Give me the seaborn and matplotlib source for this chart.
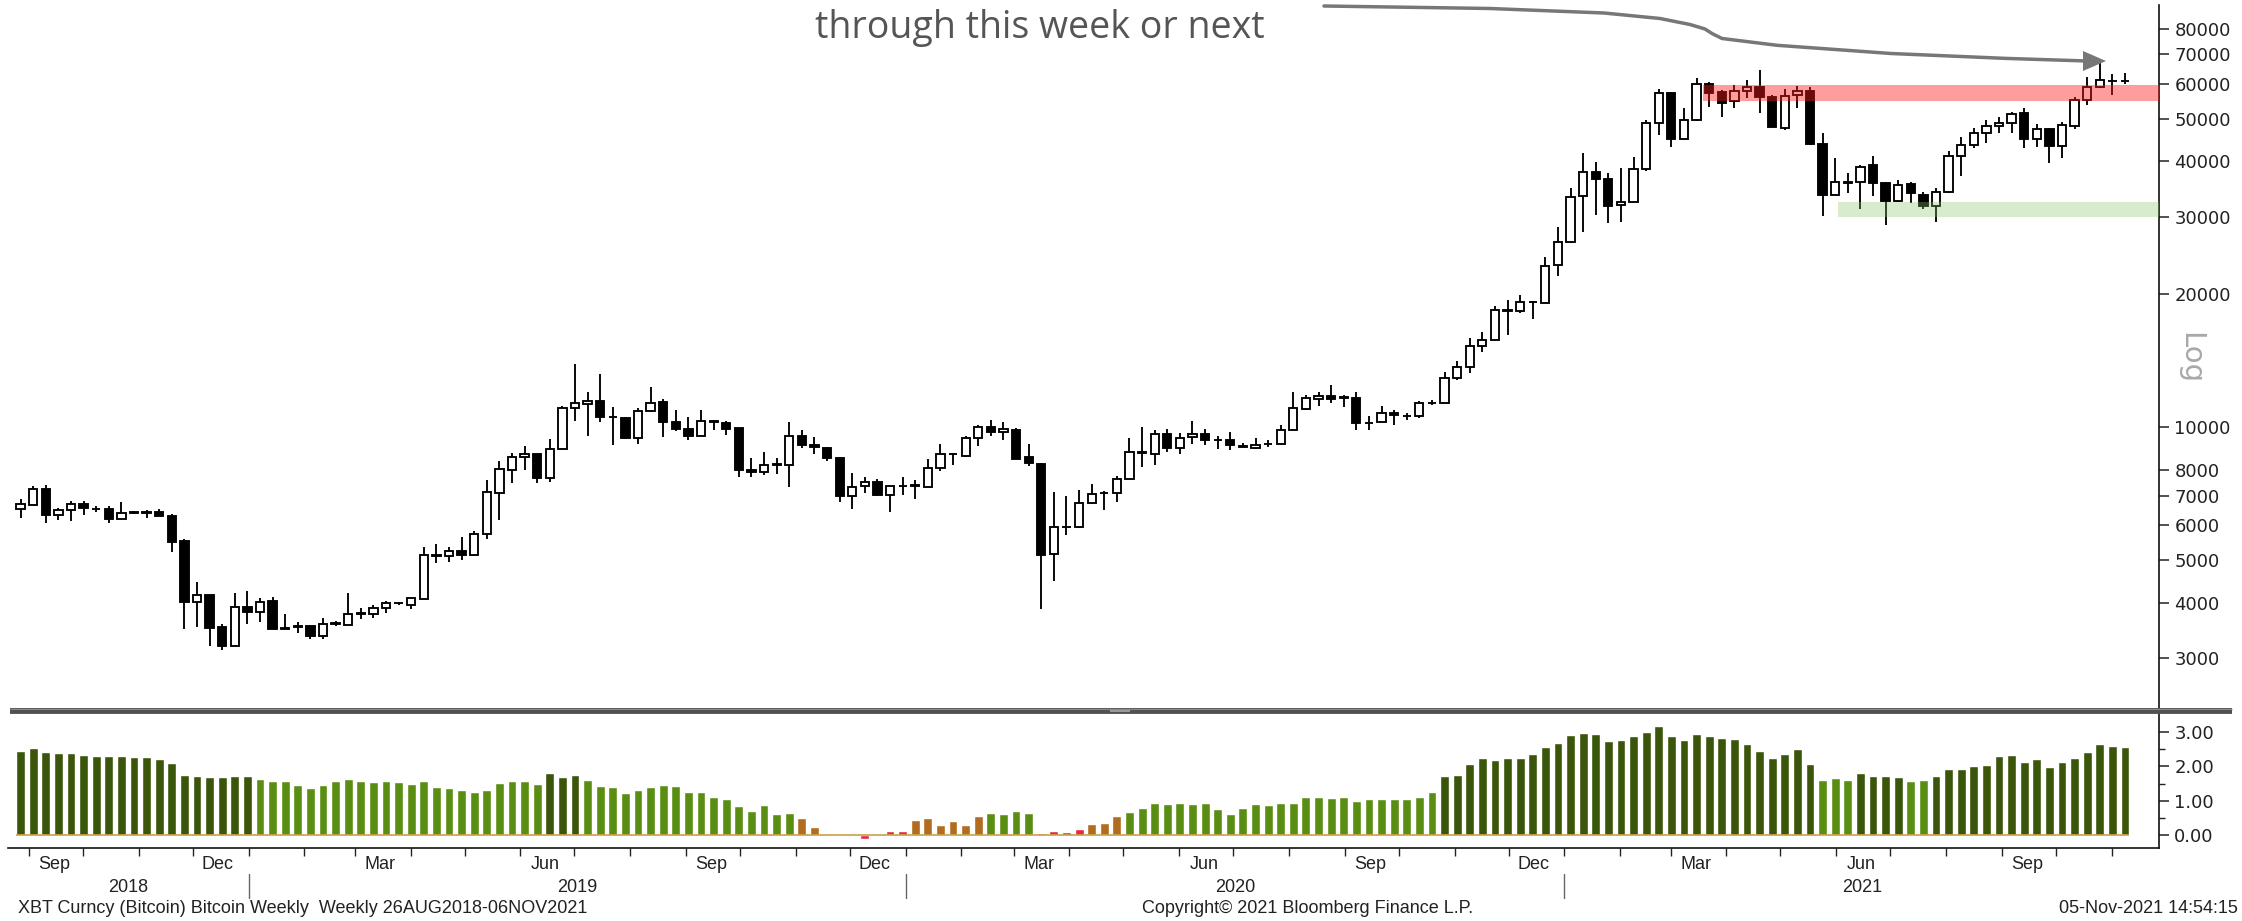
import numpy as np
import pandas as pd
import matplotlib
matplotlib.use("Agg")
import matplotlib.pyplot as plt
import seaborn as sns
from matplotlib import font_manager
from matplotlib.lines import Line2D
from matplotlib.patches import Polygon
from matplotlib.ticker import NullLocator
import matplotlib.transforms as mtransforms

# ---------------- data ----------------
week_end = pd.date_range("2018-08-26", periods=168, freq="W-SUN")

open_ = [6525, 6660, 7240, 6340, 6490, 6680, 6540, 6520, 6180, 6400,
         6410, 6410, 6290, 5530, 4020, 4170, 3530, 3200, 3918, 3815,
         4040, 3500, 3530, 3540, 3365, 3580, 3560, 3780, 3770, 3885,
         3985, 3950, 4090, 5120, 5110, 5230, 5120, 5720, 7100, 8010,
         8560, 8700, 7680, 8940, 11030, 11300, 11480, 10540, 10480, 9460,
         10900, 11400, 10260, 9920, 9560, 10300, 10200, 9960, 8000, 7930,
         8220, 8200, 9560, 9100, 8990, 8500, 6990, 7370, 7520, 7030,
         7360, 7380, 7330, 8080, 8680, 8610, 9440, 10000, 9770, 9870,
         8540, 8250, 5170, 5930, 5930, 6740, 7080, 7100, 7650, 8800,
         8680, 9640, 8980, 9480, 9640, 9350, 9330, 9050, 8960, 9150,
         9150, 9870, 11000, 11600, 11760, 11650, 11620, 10200, 10250, 10770,
         10600, 10580, 11350, 11360, 12950, 13680, 15270, 15780, 18400, 18330,
         19190, 19150, 23300, 26280, 33400, 37910, 36430, 31860, 32420, 38400,
         48800, 57060, 44880, 49650, 59810, 57560, 54850, 57850, 59100, 55880,
         47750, 56560, 57860, 43900, 33600, 35800, 35850, 39300, 35700, 32560,
         35500, 33600, 31670, 34200, 41220, 43590, 46500, 48200, 48930, 51400,
         44880, 47500, 43450, 48200, 55130, 58910, 61000, 60800]

high = [6880, 7360, 7390, 6545, 6800, 6800, 6625, 6640, 6750, 6470,
        6490, 6525, 6350, 5570, 4450, 4170, 3575, 4200, 4260, 4100,
        4130, 3770, 3625, 3560, 3700, 3640, 4200, 3885, 3950, 4040,
        4020, 4100, 5350, 5430, 5360, 5625, 5810, 7600, 8360, 8730,
        9080, 8700, 9400, 11170, 13870, 12040, 13170, 11125, 10570, 11030,
        12320, 11560, 10940, 10540, 10940, 10400, 10350, 9960, 8500, 8800,
        8500, 10260, 9870, 9510, 9040, 8500, 7860, 7725, 7650, 7370,
        7700, 7600, 8460, 9150, 8760, 9550, 10130, 10380, 10260, 9960,
        9180, 8290, 7120, 6970, 7200, 7430, 7170, 7740, 9440, 10000,
        9870, 9920, 9720, 10350, 9920, 9550, 9760, 9220, 9440, 9330,
        10090, 12040, 11840, 12040, 12480, 11840, 12040, 10580, 11170, 10940,
        10770, 11480, 11520, 13310, 14120, 15900, 16440, 18820, 19420, 19930,
        19300, 24250, 28370, 34750, 41730, 39950, 37590, 38580, 40860, 49650,
        58260, 57560, 52780, 61710, 60650, 58000, 59600, 61190, 64470, 56500,
        58260, 59290, 59000, 46500, 40730, 37740, 39300, 41220, 36000, 36320,
        35900, 34200, 34800, 42330, 45400, 47750, 49760, 50340, 51880, 52770,
        48650, 47750, 49200, 56090, 62000, 67300, 63200, 63400]

low = [6210, 6660, 6060, 6160, 6125, 6340, 6410, 6050, 6180, 6350,
       6235, 6290, 5210, 3490, 3530, 3200, 3125, 3200, 3580, 3625,
       3485, 3490, 3420, 3315, 3315, 3545, 3560, 3670, 3690, 3785,
       3960, 3865, 4090, 4930, 4950, 4990, 5110, 5570, 6160, 7460,
       8000, 7460, 7520, 8940, 10320, 9560, 10260, 9100, 9400, 9150,
       10830, 9480, 9800, 9350, 9560, 9840, 9600, 7725, 7725, 7790,
       7830, 7330, 8960, 8700, 8400, 6785, 6510, 7090, 6980, 6430,
       7030, 6890, 7330, 7940, 8220, 8580, 9080, 9560, 9350, 8460,
       8180, 3865, 4470, 5690, 5900, 6740, 6490, 6770, 7650, 8120,
       8220, 8800, 8700, 9150, 9100, 8910, 8890, 9000, 8910, 9030,
       9150, 9870, 10940, 11170, 11360, 11125, 9840, 9840, 10250, 10090,
       10380, 10500, 11220, 11360, 12820, 13240, 14830, 15780, 16180, 18100,
       17540, 19100, 21960, 26100, 27730, 30240, 28960, 29210, 32300, 38120,
       45910, 43200, 44880, 49480, 53220, 50350, 52770, 55590, 51400, 47800,
       47170, 52770, 43500, 30150, 33500, 33900, 31200, 33330, 28690, 32400,
       32230, 31200, 29200, 34000, 37170, 42840, 43970, 46500, 46330, 42840,
       43210, 39630, 40730, 47330, 53700, 58600, 56560, 59800]

close = [6680, 7230, 6340, 6490, 6680, 6545, 6520, 6180, 6400, 6410,
         6400, 6290, 5500, 4020, 4160, 3510, 3200, 3918, 3815, 4025,
         3485, 3490, 3535, 3365, 3580, 3590, 3765, 3790, 3895, 3985,
         3995, 4100, 5120, 5110, 5230, 5130, 5730, 7120, 8030, 8580,
         8700, 7680, 8940, 11030, 11320, 11480, 10540, 10530, 9460, 10870,
         11360, 10260, 9920, 9560, 10350, 10280, 9920, 8000, 7930, 8220,
         8230, 9560, 9100, 9000, 8500, 6995, 7330, 7520, 7030, 7370,
         7350, 7340, 8085, 8700, 8690, 9440, 10000, 9760, 9880, 8460,
         8290, 5130, 5930, 5940, 6740, 7060, 7100, 7630, 8800, 8720,
         9640, 8980, 9460, 9640, 9350, 9340, 9100, 9030, 9130, 9170,
         9870, 11070, 11620, 11760, 11570, 11680, 10200, 10220, 10770, 10640,
         10580, 11320, 11360, 12950, 13680, 15270, 15750, 18430, 18300, 19190,
         19200, 23230, 26280, 33290, 37910, 36430, 31750, 32420, 38450, 48800,
         57060, 44880, 49650, 59810, 57270, 54360, 57750, 59100, 55880, 48000,
         56370, 57860, 43810, 33600, 35850, 35900, 38950, 35700, 32560, 35400,
         33900, 31670, 34200, 41220, 43590, 46330, 48200, 48930, 51210, 44880,
         47500, 43450, 48380, 55130, 58910, 61070, 60800, 61000]

indicator = [2.45, 2.52, 2.42, 2.38, 2.40, 2.33, 2.29, 2.29, 2.29, 2.26, 2.26, 2.22, 2.11,
             1.76, 1.72, 1.68, 1.69, 1.73, 1.73, 1.64,
             1.58, 1.58, 1.46, 1.38, 1.46, 1.57, 1.64, 1.58, 1.54, 1.57,
             1.54, 1.50, 1.58, 1.41, 1.37, 1.31, 1.27, 1.31, 1.53, 1.57,
             1.57, 1.50, 1.80, 1.69, 1.76, 1.61, 1.43, 1.39, 1.23, 1.31,
             1.41, 1.46, 1.43, 1.27, 1.27, 1.12, 1.04, 0.86, 0.71, 0.89,
             0.62, 0.65, 0.49, 0.23, -0.03, 0.03, -0.03, -0.10, 0.03, 0.13,
             0.13, 0.44, 0.49, 0.29, 0.40, 0.29, 0.55, 0.66, 0.62, 0.70,
             0.66, 0.07, 0.13, 0.09, 0.18, 0.33, 0.36, 0.55, 0.67, 0.78,
             0.94, 0.90, 0.94, 0.90, 0.94, 0.75, 0.63, 0.78, 0.90, 0.87,
             0.94, 0.94, 1.12, 1.12, 1.08, 1.12, 0.98, 1.05, 1.05, 1.05,
             1.05, 1.12, 1.27, 1.73, 1.76, 2.06, 2.23, 2.19, 2.23, 2.23,
             2.37, 2.56, 2.68, 2.91, 2.98, 2.95, 2.73, 2.76, 2.87, 3.01,
             3.17, 2.87, 2.76, 2.95, 2.87, 2.83, 2.79, 2.64, 2.45, 2.23,
             2.37, 2.49, 2.08, 1.61, 1.65, 1.61, 1.81, 1.73, 1.73, 1.69,
             1.57, 1.61, 1.73, 1.92, 1.92, 2.00, 2.03, 2.30, 2.34, 2.14,
             2.21, 1.99, 2.14, 2.25, 2.41, 2.64, 2.60, 2.56]

price_ticks = [3000, 4000, 5000, 6000, 7000, 8000, 10000, 20000,
               30000, 40000, 50000, 60000, 70000, 80000]
indicator_ticks = [0, 1, 2, 3]
resistance_band = (54700, 59500)
support_band = (29900, 32400)
resistance_from = "2021-03-19"
support_from = "2021-06-02"
quarter_months = ["Sep", "Dec", "Mar", "Jun"]
annotation = "through this week or next"
footer_left = "XBT Curncy (Bitcoin) Bitcoin Weekly  Weekly 26AUG2018-06NOV2021"
footer_mid = "Copyright\u00a9 2021 Bloomberg Finance L.P."
footer_right = "05-Nov-2021 14:54:15"

# ---------------- styling ----------------
sns.set_theme(style="white")
plt.rcParams["font.family"] = ["DejaVu Sans"]
available = {f.name for f in font_manager.fontManager.ttflist}
narrow = "Liberation Sans Narrow" if "Liberation Sans Narrow" in available else "Liberation Sans"
hand = "Open Sans" if "Open Sans" in available else "DejaVu Sans"

W, H = 2242, 921
fig = plt.figure(figsize=(W / 100, H / 100), dpi=100, facecolor="white")


def fx(px):
    return px / W


def fy(py):
    return 1 - py / H


LEFT, RIGHT = 8, 2159
ax = fig.add_axes([fx(LEFT), fy(708), fx(RIGHT) - fx(LEFT), fy(5) - fy(708)])
ax2 = fig.add_axes([fx(LEFT), fy(848), fx(RIGHT) - fx(LEFT), fy(714) - fy(848)])

n = len(open_)
x = np.arange(n)
XLIM = (-1.0, 169.7)
start = week_end[0]


def pos(date):
    return (pd.Timestamp(date) - start).days / 7 - 0.2


# ---------------- candles ----------------
o = np.array(open_, float)
h = np.array(high, float)
l = np.array(low, float)
c = np.array(close, float)
lo = np.minimum(o, c)
hi = np.maximum(o, c)
ax.vlines(x, l, h, colors="black", linewidth=1.35, zorder=2)
ax.bar(x, hi - lo, bottom=lo, width=0.66,
       color=np.where(c >= o, "white", "black"),
       edgecolor="black", linewidth=1.35, zorder=3)
ax.set_yscale("log")
ax.set_ylim(2310, 90500)
ax.set_xlim(*XLIM)

ax.fill_between([pos(resistance_from), XLIM[1]], resistance_band[0], resistance_band[1],
                color="#ff1a1a", alpha=0.43, lw=0, zorder=4)
ax.fill_between([pos(support_from), XLIM[1]], support_band[0], support_band[1],
                color="#8cc36a", alpha=0.33, lw=0, zorder=4)

ax.yaxis.tick_right()
ax.set_yticks(price_ticks)
ax.set_yticklabels([str(t) for t in price_ticks])
ax.yaxis.set_minor_locator(NullLocator())
ax.tick_params(axis="y", which="major", direction="out", length=7, width=1.1,
               colors="#222222", labelsize=13, pad=4)
ax.tick_params(axis="x", which="both", bottom=False, labelbottom=False)
for s in ["left", "top", "bottom"]:
    ax.spines[s].set_visible(False)
ax.spines["right"].set_color("#111111")
ax.spines["right"].set_linewidth(1.2)
ax.set_xlabel("")
ax.set_ylabel("")

# ---------------- lower panel ----------------
def zone(v):
    if v < 0.2:
        return "neg"
    if v < 0.6:
        return "low"
    if v < 1.665:
        return "mid"
    return "high"


zone_colors = {"neg": "#e62a3c", "low": "#b26c1f", "mid": "#5a8e12", "high": "#3b560b"}
df = pd.DataFrame({"week": x, "value": indicator, "zone": [zone(v) for v in indicator]})
sns.barplot(data=df, x="week", y="value", hue="zone", palette=zone_colors,
            native_scale=True, dodge=False, width=0.7, errorbar=None,
            legend=False, saturation=1, ax=ax2, zorder=2)
ax2.hlines(0, -0.35, n - 0.65, color="#c9a046", lw=1.2, zorder=3)
ax2.set_xlim(*XLIM)
ax2.set_ylim(-0.37, 3.52)
ax2.set_xlabel("")
ax2.set_ylabel("")
ax2.yaxis.tick_right()
ax2.set_yticks(indicator_ticks)
ax2.set_yticklabels([f"{v:.2f}" for v in indicator_ticks])
ax2.set_yticks([0.5, 1.5, 2.5], minor=True)
ax2.tick_params(axis="y", which="major", direction="out", length=7, width=1.1,
                colors="#222222", labelsize=13, pad=4)
ax2.tick_params(axis="y", which="minor", direction="out", length=4, width=1, colors="#222222")
for s in ["left", "top"]:
    ax2.spines[s].set_visible(False)
for s in ["right", "bottom"]:
    ax2.spines[s].set_color("#111111")
    ax2.spines[s].set_linewidth(1.2)

month_starts = pd.date_range("2018-09-01", "2021-11-01", freq="MS")
ax2.set_xticks([pos(d) for d in month_starts])
ax2.set_xticklabels([""] * len(month_starts))
label_months = [d for d in month_starts if d.strftime("%b") in quarter_months]
ax2.set_xticks([pos(d + pd.Timedelta(days=14)) for d in label_months], minor=True)
ax2.set_xticklabels([d.strftime("%b") for d in label_months], minor=True)
ax2.tick_params(axis="x", which="major", direction="out", length=6, width=1,
                colors="#222222", bottom=True)
ax2.tick_params(axis="x", which="minor", length=0, pad=6, labelsize=13,
                labelcolor="#222222", labelfontfamily=narrow, bottom=True)

blend = mtransforms.blended_transform_factory(ax2.transData, fig.transFigure)
years = [2018, 2019, 2020, 2021]
for yr in years:
    a = max(pos(f"{yr}-01-01"), XLIM[0])
    b = min(pos(f"{yr + 1}-01-01"), XLIM[1])
    ax2.text((a + b) / 2, fy(887), str(yr), transform=blend, ha="center", va="center",
             fontsize=13, color="#222222", family=narrow, clip_on=False)
    if yr > years[0]:
        ax2.add_line(Line2D([pos(f"{yr}-01-01")] * 2, [fy(874), fy(898)], transform=blend,
                            color="#666666", lw=1, clip_on=False))

# ---------------- panel separator ----------------
fig.add_artist(Line2D([fx(10), fx(2232)], [fy(711), fy(711)], transform=fig.transFigure,
                      color="#505050", lw=4.2, solid_capstyle="butt"))
fig.add_artist(Line2D([fx(10), fx(2232)], [fy(709), fy(709)], transform=fig.transFigure,
                      color="#8a8a8a", lw=0.8, solid_capstyle="butt"))
fig.add_artist(Line2D([fx(1110), fx(1130)], [fy(711), fy(711)], transform=fig.transFigure,
                      color="#9a9a9a", lw=1.5, solid_capstyle="butt"))

# ---------------- labels and annotation ----------------
fig.text(fx(2190), fy(358), "Log", rotation=-90, color="#a8a8a8", fontsize=21,
         ha="center", va="center")

fig.text(fx(1040), fy(38), annotation, ha="center", va="baseline", fontsize=27,
         color="#555555", family=hand)

arrow_px = [(1324, 6), (1490, 8.5), (1604, 13), (1660, 18.5), (1690, 24.5), (1705, 29),
            (1712, 33.5), (1722, 38.5), (1777, 45.3), (1891, 53.5), (2006, 58.4), (2087, 61)]
fig.add_artist(Line2D([fx(p[0]) for p in arrow_px], [fy(p[1]) for p in arrow_px],
                      transform=fig.transFigure, color="#777777", lw=2.5,
                      solid_joinstyle="round", solid_capstyle="round"))
fig.add_artist(Polygon([(fx(2083), fy(51)), (fx(2106), fy(61)), (fx(2083), fy(71))],
                       closed=True, transform=fig.transFigure, color="#777777", lw=0))

fig.text(fx(18), fy(908), footer_left, ha="left", va="center", fontsize=13,
         color="#222222", family=narrow)
fig.text(fx(1308), fy(908), footer_mid, ha="center", va="center", fontsize=13,
         color="#222222", family=narrow)
fig.text(fx(2238), fy(908), footer_right, ha="right", va="center", fontsize=13,
         color="#222222", family=narrow)

fig.savefig("out.png", dpi=100, facecolor="white")
